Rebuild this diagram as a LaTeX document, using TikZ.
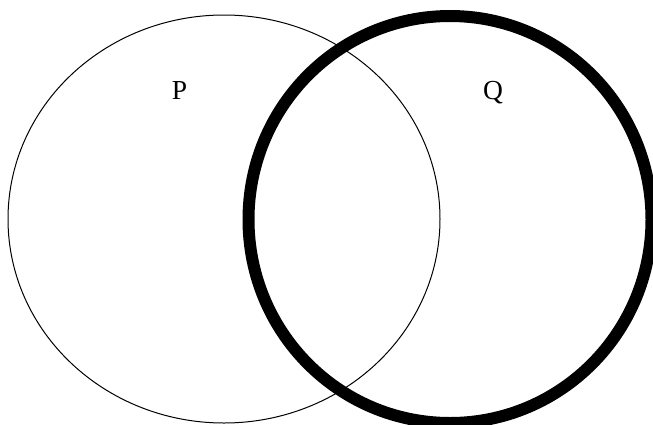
\documentclass[tikz,border=0pt]{standalone}
\usepackage{fontspec}
\setmainfont{Liberation Serif}
\usepackage{xcolor}
\usepackage{tikz}

\begin{document}
\begin{tikzpicture}[x=1pt,y=-1pt]
  \clip (0,0) rectangle (653,424);
  \fill[white] (0,0) rectangle (653,424);
  \draw[black,line width=1pt] (224,219) ellipse[x radius=216,y radius=204];
  \draw[black,line width=12pt] (450,219.5) ellipse[x radius=201.5,y radius=203.5];
  \node[font=\fontsize{27.5}{32}\selectfont,anchor=base] (labP) at (179.5,99) {P};
  \node[font=\fontsize{27.5}{32}\selectfont,anchor=base] (labQ) at (493,99) {Q};
\end{tikzpicture}
\end{document}
